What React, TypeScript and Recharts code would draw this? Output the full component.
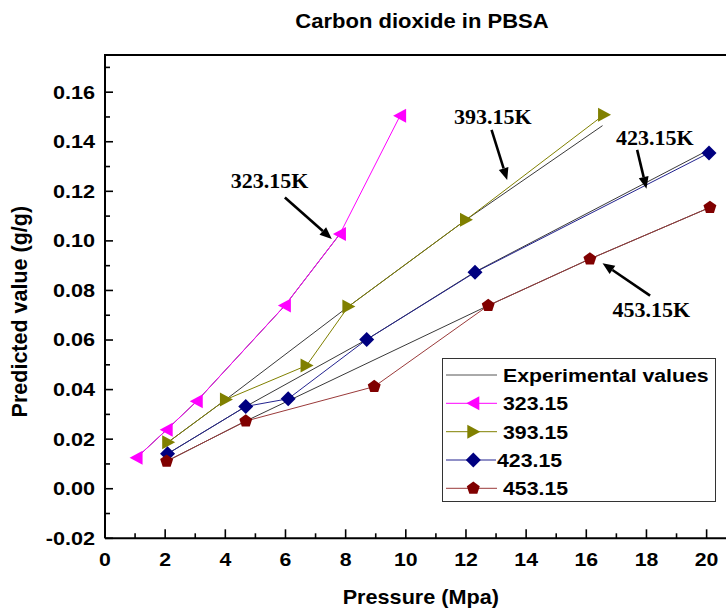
import React from 'react';
import { ComposedChart, Line, XAxis, YAxis, Legend, ReferenceLine, ReferenceDot } from 'recharts';

const SANS = '"Liberation Sans", Arial, sans-serif';
const SERIF = '"Liberation Serif", "Times New Roman", serif';

// ---- Data (Pressure in MPa, predicted value g/g) ----
const p323 = [1.05, 2.05, 3.05, 5.98, 7.81, 9.81];
const v323 = [0.0125, 0.0238, 0.0353, 0.0739, 0.1028, 0.1505];
const p393 = [2.1, 4.02, 6.7, 8.09, 12.0, 16.59];
const v393 = [0.0188, 0.036, 0.0497, 0.0735, 0.1085, 0.1509];
const p423 = [2.08, 4.68, 6.09, 8.7, 12.3, 20.08];
const v423 = [0.0141, 0.0332, 0.0363, 0.0602, 0.0873, 0.1355];
const p453 = [2.05, 4.68, 8.95, 12.74, 16.12, 20.11];
const v453 = [0.0111, 0.0273, 0.0412, 0.0739, 0.0927, 0.1135];

// experimental values
const pExp323 = [1.05, 2.05, 3.05, 5.98, 7.81];
const vExp323 = [0.0125, 0.0238, 0.0353, 0.0739, 0.1028];
const pExp393 = [2.1, 4.02, 8.09, 12.0, 16.54];
const vExp393 = [0.0188, 0.036, 0.0735, 0.1085, 0.1465];
const pExp423 = [2.08, 4.68, 8.7, 12.3, 19.94];
const vExp423 = [0.0141, 0.0332, 0.0602, 0.0875, 0.1359];
const pExp453 = [2.05, 4.68, 12.74, 16.12, 20.11];
const vExp453 = [0.0111, 0.0273, 0.0739, 0.0927, 0.1135];

const xTicks = [0, 1, 2, 3, 4, 5, 6, 7, 8, 9, 10, 11, 12, 13, 14, 15, 16, 17, 18, 19, 20, 21];
const yTicks = [-0.02, -0.01, 0, 0.01, 0.02, 0.03, 0.04, 0.05, 0.06, 0.07, 0.08, 0.09, 0.1, 0.11, 0.12, 0.13, 0.14, 0.15, 0.16, 0.17];
const yMax = 0.175;

const legendLabels = ['Experimental values', '323.15', '393.15', '423.15', '453.15'];

// annotations
const annLabels = ['323.15K', '393.15K', '423.15K', '453.15K'];
const annTextP = [5.47, 12.89, 18.28, 18.16];
const annTextV = [0.1215, 0.1472, 0.1388, 0.0692];
const arrowFromP = [5.98, 12.85, 17.69, 18.12];
const arrowFromV = [0.1175, 0.1448, 0.1367, 0.0779];
const arrowToP = [7.54, 13.37, 18.0, 16.54];
const arrowToV = [0.1008, 0.1246, 0.121, 0.091];

const toPoints = (ps: number[], vs: number[]) => ps.map((p, i) => ({ p, v: vs[i] }));

// horizontally stretched bold sans text (the reference is slightly widened)
const SText = ({ x, y, size, sx = 1.13, anchor = 'start', rotate = 0, children }: any) => (
  <text
    x={0}
    y={0}
    transform={`translate(${x} ${y})${rotate ? ` rotate(${rotate})` : ''} scale(${sx} 1)`}
    textAnchor={anchor}
    fontFamily={SANS}
    fontWeight="bold"
    fontSize={size}
    fill="#000"
  >
    {children}
  </text>
);

// ---- Markers ----
const LeftTri = ({ cx, cy, fill }: any) => (
  <polygon points={`${cx - 7},${cy} ${cx + 6},${cy - 7} ${cx + 6},${cy + 7}`} fill={fill} />
);
const RightTri = ({ cx, cy, fill }: any) => (
  <polygon points={`${cx + 7},${cy} ${cx - 6},${cy - 7} ${cx - 6},${cy + 7}`} fill={fill} />
);
const Diamond = ({ cx, cy, fill }: any) => (
  <polygon points={`${cx},${cy - 7.5} ${cx + 7.5},${cy} ${cx},${cy + 7.5} ${cx - 7.5},${cy}`} fill={fill} />
);
const Pentagon = ({ cx, cy, fill }: any) => {
  const r = 6.8;
  const pts = [0, 1, 2, 3, 4]
    .map((k) => {
      const a = ((-90 + k * 72) * Math.PI) / 180;
      return `${cx + r * Math.cos(a)},${cy + r * Math.sin(a)}`;
    })
    .join(' ');
  return <polygon points={pts} fill={fill} />;
};

const makeDot = (Shape: any, fill: string) => (props: any) => {
  if (props.cx == null || props.cy == null) return <g key={props.index} />;
  return <Shape key={props.index} cx={props.cx} cy={props.cy} fill={fill} />;
};

const series = [
  { name: '323.15', ps: p323, vs: v323, stroke: '#FF00FF', fill: '#FF00FF', Shape: LeftTri },
  { name: '393.15', ps: p393, vs: v393, stroke: '#808000', fill: '#808000', Shape: RightTri },
  { name: '423.15', ps: p423, vs: v423, stroke: '#23238f', fill: '#000080', Shape: Diamond },
  { name: '453.15', ps: p453, vs: v453, stroke: '#9a3a3a', fill: '#800000', Shape: Pentagon },
];
const expSeries = [
  { ps: pExp323, vs: vExp323 },
  { ps: pExp393, vs: vExp393 },
  { ps: pExp423, vs: vExp423 },
  { ps: pExp453, vs: vExp453 },
];

// ---- Ticks ----
const XTick = (props: any) => {
  const { x, y, payload } = props;
  const v = payload.value;
  const major = Math.round(v) % 2 === 0;
  return (
    <g>
      <line x1={x} y1={y} x2={x} y2={y - (major ? 9 : 5)} stroke="#000" strokeWidth={1.6} />
      {major && (
        <SText x={x} y={y + 27.4} size={18.5} sx={1.15} anchor="middle">
          {String(v)}
        </SText>
      )}
    </g>
  );
};

const YTick = (props: any) => {
  const { x, y, payload } = props;
  const v = payload.value;
  const major = Math.round(v * 100) % 2 === 0;
  return (
    <g>
      <line x1={x} y1={y} x2={x + (major ? 8 : 5)} y2={y} stroke="#000" strokeWidth={1.6} />
      {major && (
        <SText x={x - 10} y={y + 6.4} size={18.5} sx={1.17} anchor="end">
          {v.toFixed(2)}
        </SText>
      )}
    </g>
  );
};

// ---- Legend ----
const LegendBox = () => {
  const rowY = [17, 45.3, 73.7, 102, 130.3];
  return (
    <svg width={275} height={145} style={{ display: 'block' }}>
      <rect x={0.5} y={0.5} width={273} height={143} fill="#fff" stroke="#333" strokeWidth={1} />
      {legendLabels.map((lab, i) => {
        const cy = rowY[i];
        const s = i === 0 ? null : series[i - 1];
        const textX = i === 3 ? 55 : 61;
        return (
          <g key={lab}>
            <line x1={4} y1={cy} x2={i === 3 ? 54 : 55} y2={cy} stroke={s ? s.stroke : '#555'} strokeWidth={1} />
            {s && <s.Shape cx={31.3} cy={cy} fill={s.fill} />}
            <SText x={textX} y={cy + 7} size={19} sx={1.12}>
              {lab}
            </SText>
          </g>
        );
      })}
    </svg>
  );
};

// ---- Annotation shapes ----
const ArrowShape = (props: any) => {
  const { x1, y1, x2, y2 } = props;
  const dx = x2 - x1;
  const dy = y2 - y1;
  const len = Math.sqrt(dx * dx + dy * dy);
  const ux = dx / len;
  const uy = dy / len;
  const hl = 12;
  const hw = 5;
  const bx = x2 - ux * hl;
  const by = y2 - uy * hl;
  return (
    <g>
      <line x1={x1} y1={y1} x2={bx} y2={by} stroke="#000" strokeWidth={2.6} />
      <polygon
        points={`${x2},${y2} ${bx - uy * hw},${by + ux * hw} ${bx + uy * hw},${by - ux * hw}`}
        fill="#000"
      />
    </g>
  );
};

const makeAnnText = (label: string) => (props: any) => (
  <text x={props.cx} y={props.cy} textAnchor="middle" fontFamily={SERIF} fontWeight="bold" fontSize={22} fill="#000">
    {label}
  </text>
);

export default function App() {
  return (
    <div
      style={{
        position: 'absolute',
        left: 0,
        top: 0,
        width: 726,
        height: 611,
        overflow: 'hidden',
        background: '#fff',
      }}
    >
      <ComposedChart width={760} height={611} margin={{ top: 55, right: 23.3, bottom: 0, left: 0 }}>
        <XAxis
          xAxisId={0}
          type="number"
          dataKey="p"
          domain={[0, 21]}
          ticks={xTicks}
          interval={0}
          allowDataOverflow
          height={72.7}
          tickSize={0}
          tickMargin={0}
          tickLine={false}
          tick={<XTick />}
          axisLine={{ stroke: '#000', strokeWidth: 2 }}
          label={{
            content: (p: any) => (
              <SText x={p.viewBox.x + p.viewBox.width / 2} y={p.viewBox.y + 66} size={19.5} sx={1.11} anchor="middle">
                Pressure (Mpa)
              </SText>
            ),
          }}
        />
        <YAxis
          type="number"
          domain={[-0.02, yMax]}
          ticks={yTicks}
          interval={0}
          allowDataOverflow
          width={105}
          tickSize={0}
          tickMargin={0}
          tickLine={false}
          tick={<YTick />}
          axisLine={{ stroke: '#000', strokeWidth: 2 }}
          label={{
            content: (p: any) => {
              const vb = p.viewBox || {};
              const top = typeof vb.y === 'number' ? vb.y : 55;
              const cx = 27;
              const cy = top + (vb.height || 483.3) / 2 + 15;
              return (
                <g>
                  <SText x={cx} y={cy} size={21.5} sx={1} rotate={-90} anchor="middle">
                    Predicted value (g/g)
                  </SText>
                  <SText x={422} y={28.3} size={19.5} sx={1.13} anchor="middle">
                    Carbon dioxide in PBSA
                  </SText>
                </g>
              );
            },
          }}
        />
        {expSeries.map((e, i) => (
          <Line
            key={`exp${i}`}
            xAxisId={0}
            data={toPoints(e.ps, e.vs)}
            dataKey="v"
            type="linear"
            stroke="#222"
            strokeWidth={0.9}
            dot={false}
            activeDot={false}
            legendType="none"
            isAnimationActive={false}
          />
        ))}
        {series.map((s) => (
          <Line
            key={s.name}
            xAxisId={0}
            name={s.name}
            data={toPoints(s.ps, s.vs)}
            dataKey="v"
            type="linear"
            stroke={s.stroke}
            strokeWidth={1}
            dot={makeDot(s.Shape, s.fill)}
            activeDot={false}
            isAnimationActive={false}
          />
        ))}
        {annLabels.map((lab, i) => (
          <ReferenceLine
            key={`arr${i}`}
            xAxisId={0}
            segment={[
              { x: arrowFromP[i], y: arrowFromV[i] },
              { x: arrowToP[i], y: arrowToV[i] },
            ]}
            shape={ArrowShape}
          />
        ))}
        {annLabels.map((lab, i) => (
          <ReferenceDot key={`lab${i}`} xAxisId={0} x={annTextP[i]} y={annTextV[i]} r={0} shape={makeAnnText(lab)} />
        ))}
        <Legend
          layout="vertical"
          align="center"
          verticalAlign="middle"
          content={() => <LegendBox />}
          wrapperStyle={{ position: 'absolute', left: 442, top: 358, width: 275, height: 145 }}
        />
      </ComposedChart>
      {/* top frame line of the plot box */}
      <div
        style={{
          position: 'absolute',
          left: 104,
          top: 54,
          width: 640,
          height: 2,
          background: '#000',
          pointerEvents: 'none',
        }}
      />
    </div>
  );
}
